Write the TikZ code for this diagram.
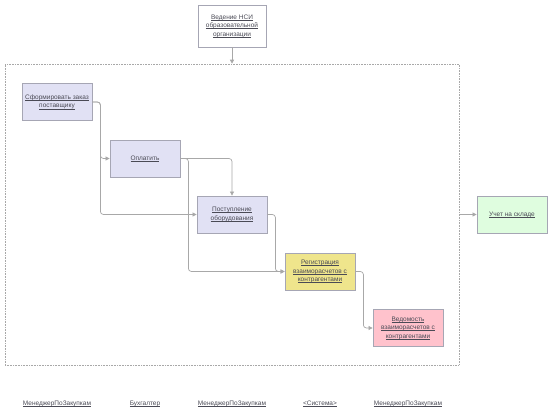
\documentclass[tikz,border=0pt]{standalone}
\usepackage{fontspec}
\setmainfont{Liberation Sans}
\usetikzlibrary{arrows.meta}
\definecolor{txt}{HTML}{4A4A55}
\definecolor{lav}{HTML}{E1E1F4}
\definecolor{bord}{HTML}{A6A6B4}
\definecolor{yel}{HTML}{EFE58C}
\definecolor{pnk}{HTML}{FFC2CC}
\definecolor{grn}{HTML}{DFFDDF}
\definecolor{ln}{HTML}{A8A8A8}
\newcommand{\ulx}[1]{\setbox0\hbox{#1}\rlap{\rule[-1.1pt]{\wd0}{0.45pt}}\box0}
\begin{document}
\begin{tikzpicture}[x=1pt,y=1pt,
  every node/.style={font=\fontsize{6.5}{8.5}\selectfont, text=txt},
  box/.style={draw=bord, line width=0.8pt, fill=lav, minimum width=70pt, minimum height=37pt, align=center, inner sep=1pt},
  frm/.style={draw=ln, densely dotted, line width=0.6pt, minimum width=454pt, minimum height=301pt, inner sep=0pt},
  conn/.style={draw=ln, line width=0.7pt, rounded corners=3pt, -{Triangle[length=4pt,width=4pt]}},
  lbl/.style={align=center}
]
\useasboundingbox (0,0) rectangle (555,416);
\node[frm] (fr) at (232,201.5) {};
\node[box, fill=white, minimum width=68pt, minimum height=42pt] (top) at (232,390) {\ulx{Ведение НСИ}\\\ulx{образовательной}\\\ulx{организации}};
\node[box] (n1) at (57,314) {\ulx{Сформировать заказ}\\\ulx{поставщику}};
\node[box] (n2) at (145,257.5) {\ulx{Оплатить}};
\node[box] (n3) at (232,201.5) {\ulx{Поступление}\\\ulx{оборудования}};
\node[box, fill=yel] (n4) at (320,144.5) {\ulx{Регистрация}\\\ulx{взаиморасчетов с}\\\ulx{контрагентами}};
\node[box, fill=pnk] (n5) at (408,88) {\ulx{Ведомость}\\\ulx{взаиморасчетов с}\\\ulx{контрагентами}};
\node[box, fill=grn] (n6) at (512,201.5) {\ulx{Учет на складе}};
\draw[conn] (top.south) -- (fr.north);
\draw[conn] (n1.east) -- ++(8,0) |- (n2.west);
\draw[conn] (n1.east) -- ++(8,0) |- (n3.west);
\draw[conn] (n2.east) -| (n3.north);
\draw[conn] (n2.east) -- ++(8,0) |- (n4.west);
\draw[conn] (n3.east) -- ++(8,0) |- (n4.west);
\draw[conn] (n4.east) -- ++(8,0) |- (n5.west);
\draw[conn] (fr.east) -- (n6.west);
\node[lbl] (l1) at (57,12) {\ulx{МенеджерПоЗакупкам}};
\node[lbl] (l2) at (145,12) {\ulx{Бухгалтер}};
\node[lbl] (l3) at (232,12) {\ulx{МенеджерПоЗакупкам}};
\node[lbl] (l4) at (320,12) {\ulx{<Система>}};
\node[lbl] (l5) at (408,12) {\ulx{МенеджерПоЗакупкам}};
\end{tikzpicture}
\end{document}
